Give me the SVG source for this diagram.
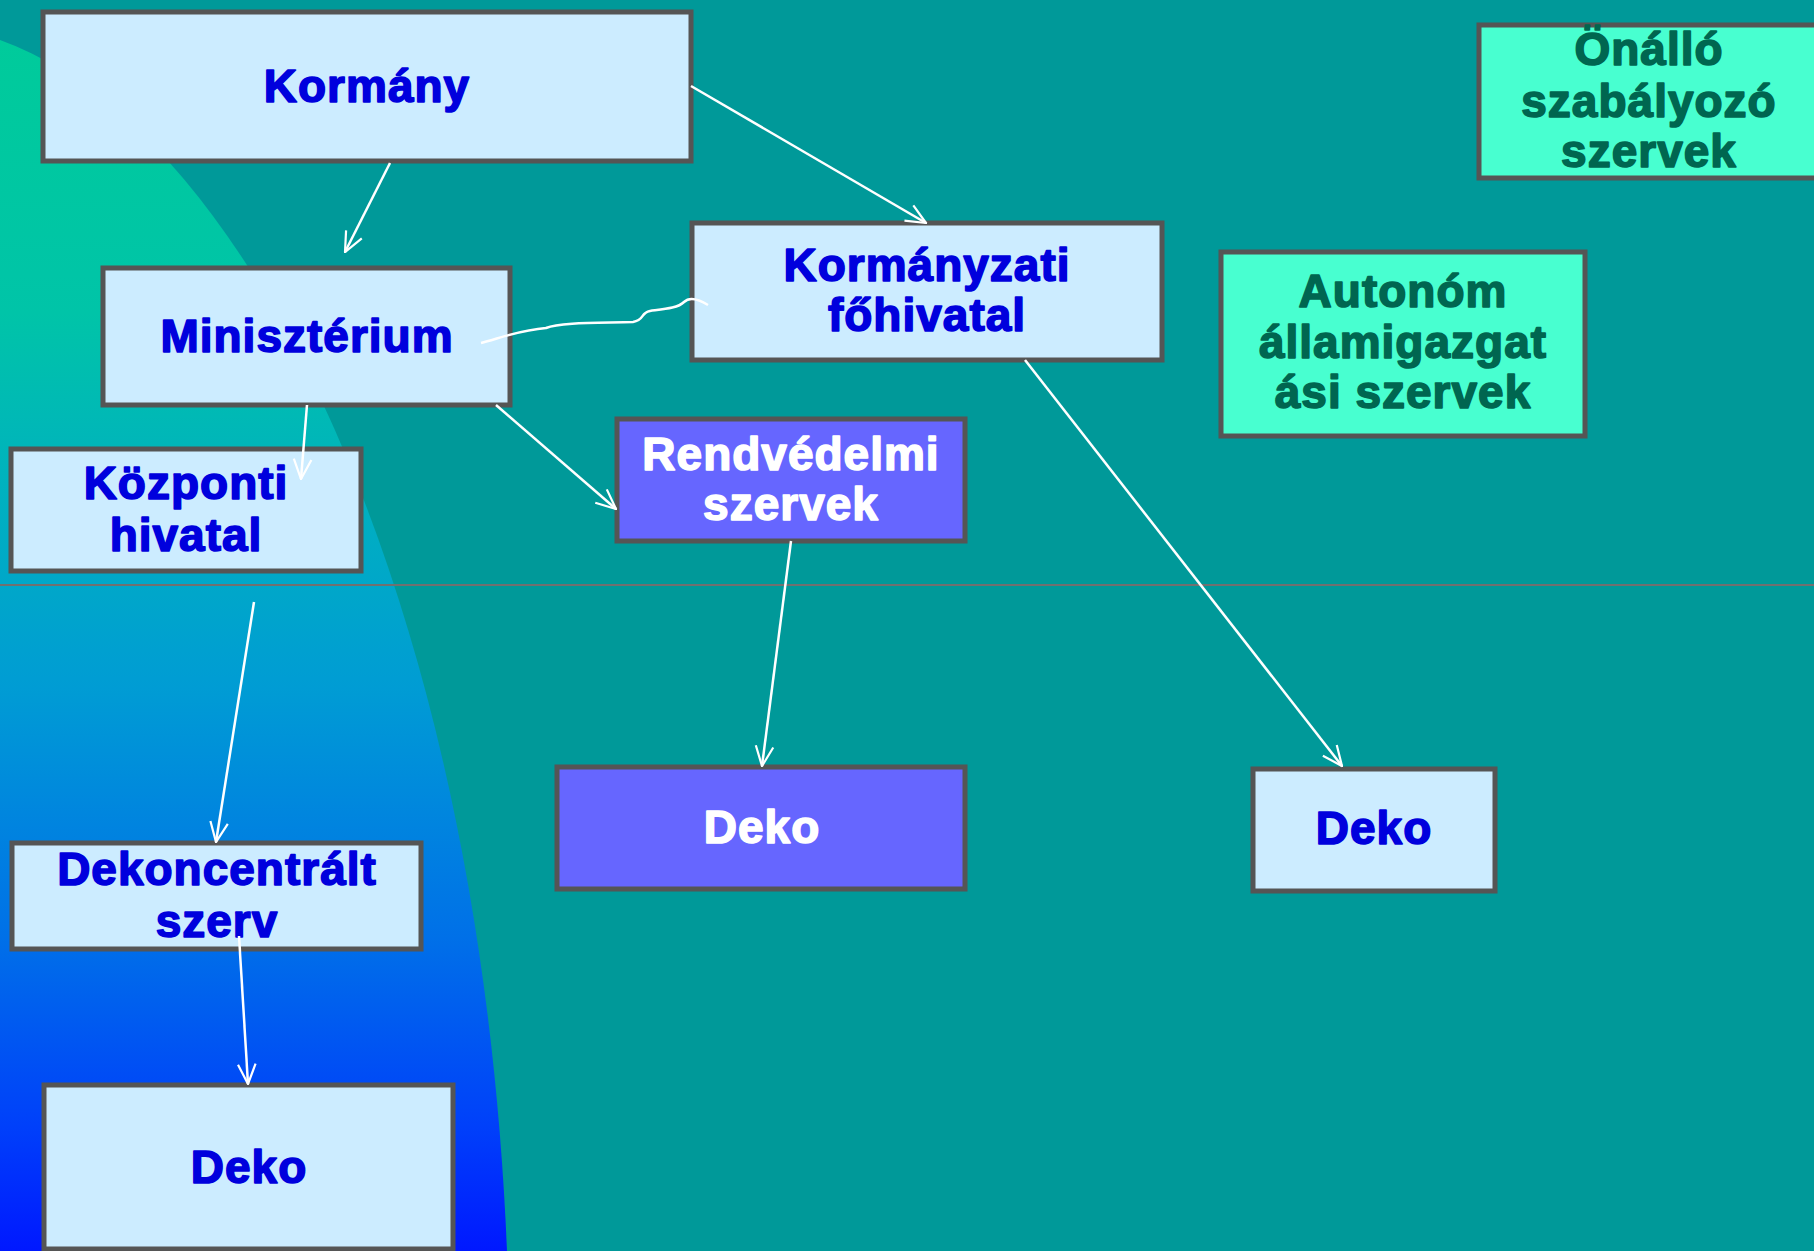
<svg xmlns="http://www.w3.org/2000/svg" width="1814" height="1251" viewBox="0 0 1814 1251">
<defs>
<linearGradient id="bg" x1="0" y1="0" x2="0" y2="1251" gradientUnits="userSpaceOnUse">
<stop offset="0" stop-color="#00CC99"/>
<stop offset="0.25" stop-color="#00C4A8"/>
<stop offset="0.4" stop-color="#00B0C0"/>
<stop offset="0.55" stop-color="#009CD4"/>
<stop offset="0.75" stop-color="#0070E8"/>
<stop offset="0.9" stop-color="#0040FA"/>
<stop offset="1" stop-color="#0018FF"/>
</linearGradient>
<marker id="arr" viewBox="0 0 20 20" refX="19" refY="10" markerWidth="22" markerHeight="22" markerUnits="userSpaceOnUse" orient="auto">
<path d="M1,2 L19,10 L1,18" fill="none" stroke="#FFFFFF" stroke-width="2"/>
</marker>
<style>
.box{fill:#CCECFF;stroke:#555555;stroke-width:5}
.pur{fill:#6666FF;stroke:#555555;stroke-width:5}
.grn{fill:#48FFD0;stroke:#555555;stroke-width:5}
text{font-family:"Liberation Sans",Arial,sans-serif;font-weight:bold;font-size:46px;letter-spacing:1px;text-anchor:middle;stroke-width:1.6px;stroke-linejoin:round}
.b{fill:#0000DD;stroke:#0000DD}
.w{fill:#FFFFFF;stroke:#FFFFFF}
.g{fill:#006650;stroke:#006650}
.c{fill:none;stroke:#FFFFFF;stroke-width:2.5}
</style>
</defs>
<rect x="0" y="0" width="1814" height="1251" fill="#009999"/>
<path d="M0,40 C250,130 480,600 507,1251 L0,1251 Z" fill="url(#bg)"/>
<line x1="0" y1="585" x2="1814" y2="585" stroke="#707070" stroke-width="2"/>

<g id="kormany"><rect class="box" x="43" y="12" width="648" height="149"/><text class="b" x="367" y="102">Kormány</text></g>
<g id="miniszterium"><rect class="box" x="103" y="268" width="407" height="137"/><text class="b" x="307" y="352">Minisztérium</text></g>
<g id="kormanyzati"><rect class="box" x="692" y="223" width="470" height="137"/><text class="b" x="927" y="281">Kormányzati</text><text class="b" x="927" y="331">főhivatal</text></g>
<g id="onallo"><rect class="grn" x="1479" y="25" width="345" height="153"/><text class="g" x="1649" y="65">Önálló</text><text class="g" x="1649" y="117">szabályozó</text><text class="g" x="1649" y="167">szervek</text></g>
<g id="autonom"><rect class="grn" x="1221" y="252" width="364" height="184"/><text class="g" x="1403" y="307">Autonóm</text><text class="g" x="1403" y="358">államigazgat</text><text class="g" x="1403" y="408">ási szervek</text></g>
<g id="kozponti"><rect class="box" x="11" y="449" width="350" height="122"/><text class="b" x="186" y="499">Központi</text><text class="b" x="186" y="551">hivatal</text></g>
<g id="rendvedelmi"><rect class="pur" x="617" y="419" width="348" height="122"/><text class="w" x="791" y="470">Rendvédelmi</text><text class="w" x="791" y="520">szervek</text></g>
<g id="dekoncentralt"><rect class="box" x="12" y="843" width="409" height="106"/><text class="b" x="217" y="885">Dekoncentrált</text><text class="b" x="217" y="937">szerv</text></g>
<g id="deko1"><rect class="box" x="44" y="1085" width="409" height="164"/><text class="b" x="249" y="1183">Deko</text></g>
<g id="deko2"><rect class="pur" x="557" y="767" width="408" height="122"/><text class="w" x="762" y="843">Deko</text></g>
<g id="deko3"><rect class="box" x="1253" y="769" width="242" height="122"/><text class="b" x="1374" y="844">Deko</text></g>

<g id="connectors">
<line class="c" x1="390" y1="163" x2="345" y2="252" marker-end="url(#arr)"/>
<line class="c" x1="691" y1="86" x2="926" y2="223" marker-end="url(#arr)"/>
<path class="c" d="M481,343 C500,338 520,330 546,328 C560,322 600,323 633,322 C645,320 640,313 650,311 C665,309 678,308 684,302 C690,296 700,300 708,305"/>
<line class="c" x1="307" y1="405" x2="301" y2="479" marker-end="url(#arr)"/>
<line class="c" x1="496" y1="405" x2="616" y2="509" marker-end="url(#arr)"/>
<line class="c" x1="254" y1="602" x2="216" y2="842" marker-end="url(#arr)"/>
<line class="c" x1="239" y1="936" x2="248" y2="1084" marker-end="url(#arr)"/>
<line class="c" x1="791" y1="541" x2="762" y2="766" marker-end="url(#arr)"/>
<line class="c" x1="1025" y1="360" x2="1342" y2="766" marker-end="url(#arr)"/>
</g>
</svg>
